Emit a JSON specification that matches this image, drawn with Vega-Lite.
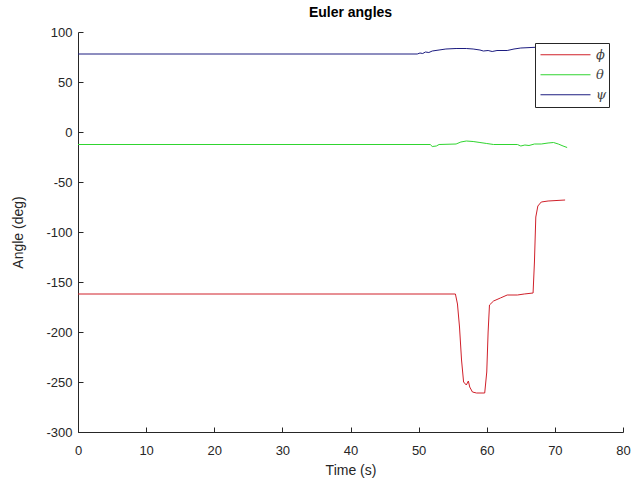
{
  "$schema": "https://vega.github.io/schema/vega-lite/v6.json",
  "autosize": {"type": "none"},
  "padding": {"left": 78, "top": 32, "right": 12, "bottom": 59},
  "width": 545,
  "height": 400,
  "background": "white",
  "config": {
    "view": {"stroke": null},
    "font": "Liberation Sans"
  },
  "title": {"text": "Euler angles", "fontSize": 14, "fontWeight": "bold", "font": "Liberation Sans", "color": "#000000", "offset": 6},
  "data": {"values": [
    {"t": 0, "angle": -162, "series": "ϕ"},
    {"t": 55.4, "angle": -162, "series": "ϕ"},
    {"t": 55.7, "angle": -172, "series": "ϕ"},
    {"t": 56.0, "angle": -195, "series": "ϕ"},
    {"t": 56.3, "angle": -228, "series": "ϕ"},
    {"t": 56.6, "angle": -250, "series": "ϕ"},
    {"t": 57.0, "angle": -253, "series": "ϕ"},
    {"t": 57.3, "angle": -249, "series": "ϕ"},
    {"t": 57.5, "angle": -255, "series": "ϕ"},
    {"t": 57.9, "angle": -260, "series": "ϕ"},
    {"t": 58.5, "angle": -261, "series": "ϕ"},
    {"t": 59.7, "angle": -261, "series": "ϕ"},
    {"t": 60.0, "angle": -240, "series": "ϕ"},
    {"t": 60.2, "angle": -200, "series": "ϕ"},
    {"t": 60.4, "angle": -173, "series": "ϕ"},
    {"t": 61.0, "angle": -169, "series": "ϕ"},
    {"t": 62.0, "angle": -166, "series": "ϕ"},
    {"t": 63.0, "angle": -163, "series": "ϕ"},
    {"t": 64.5, "angle": -163, "series": "ϕ"},
    {"t": 65.5, "angle": -162, "series": "ϕ"},
    {"t": 66.8, "angle": -161, "series": "ϕ"},
    {"t": 67.0, "angle": -130, "series": "ϕ"},
    {"t": 67.2, "angle": -85, "series": "ϕ"},
    {"t": 67.5, "angle": -74, "series": "ϕ"},
    {"t": 68.0, "angle": -70, "series": "ϕ"},
    {"t": 69.0, "angle": -69, "series": "ϕ"},
    {"t": 71.5, "angle": -68, "series": "ϕ"},
    {"t": 0, "angle": -12.5, "series": "θ"},
    {"t": 51.7, "angle": -12.5, "series": "θ"},
    {"t": 52.0, "angle": -14.5, "series": "θ"},
    {"t": 52.6, "angle": -14, "series": "θ"},
    {"t": 53.0, "angle": -12.5, "series": "θ"},
    {"t": 55.5, "angle": -12, "series": "θ"},
    {"t": 56.2, "angle": -10, "series": "θ"},
    {"t": 57.0, "angle": -9, "series": "θ"},
    {"t": 58.0, "angle": -9.5, "series": "θ"},
    {"t": 59.0, "angle": -10.5, "series": "θ"},
    {"t": 60.0, "angle": -11.5, "series": "θ"},
    {"t": 61.0, "angle": -12.5, "series": "θ"},
    {"t": 64.5, "angle": -12.5, "series": "θ"},
    {"t": 65.0, "angle": -14, "series": "θ"},
    {"t": 65.6, "angle": -13, "series": "θ"},
    {"t": 66.2, "angle": -13.5, "series": "θ"},
    {"t": 67.0, "angle": -12, "series": "θ"},
    {"t": 68.0, "angle": -12, "series": "θ"},
    {"t": 69.0, "angle": -11, "series": "θ"},
    {"t": 69.8, "angle": -10.5, "series": "θ"},
    {"t": 70.5, "angle": -12, "series": "θ"},
    {"t": 71.2, "angle": -14, "series": "θ"},
    {"t": 71.8, "angle": -15.5, "series": "θ"},
    {"t": 0, "angle": 78, "series": "ψ"},
    {"t": 49.8, "angle": 78, "series": "ψ"},
    {"t": 50.2, "angle": 79, "series": "ψ"},
    {"t": 50.6, "angle": 78.5, "series": "ψ"},
    {"t": 51.0, "angle": 80, "series": "ψ"},
    {"t": 51.5, "angle": 79.5, "series": "ψ"},
    {"t": 52.0, "angle": 81, "series": "ψ"},
    {"t": 53.0, "angle": 82, "series": "ψ"},
    {"t": 54.0, "angle": 83, "series": "ψ"},
    {"t": 55.5, "angle": 83.5, "series": "ψ"},
    {"t": 57.0, "angle": 83.5, "series": "ψ"},
    {"t": 58.0, "angle": 83, "series": "ψ"},
    {"t": 59.0, "angle": 82, "series": "ψ"},
    {"t": 59.5, "angle": 81, "series": "ψ"},
    {"t": 60.2, "angle": 81.5, "series": "ψ"},
    {"t": 60.8, "angle": 80.5, "series": "ψ"},
    {"t": 61.5, "angle": 81.5, "series": "ψ"},
    {"t": 63.0, "angle": 81.5, "series": "ψ"},
    {"t": 64.0, "angle": 83, "series": "ψ"},
    {"t": 65.0, "angle": 84, "series": "ψ"},
    {"t": 66.5, "angle": 84.5, "series": "ψ"},
    {"t": 68.0, "angle": 85, "series": "ψ"},
    {"t": 71.5, "angle": 85, "series": "ψ"}
  ]},
  "layer": [
    {
      "mark": {"type": "line", "strokeWidth": 1, "interpolate": "linear"},
      "encoding": {
        "x": {
          "field": "t", "type": "quantitative",
          "scale": {"domain": [0, 80], "nice": false},
          "axis": {
            "orient": "bottom",
            "title": "Time (s)", "titleFontSize": 14, "titleFontWeight": "normal", "titleColor": "#262626", "titlePadding": 6,
            "values": [0, 10, 20, 30, 40, 50, 60, 70, 80],
            "grid": false, "ticks": false, "domainColor": "#262626",
            "labelFontSize": 13, "labelColor": "#262626", "labelPadding": 12, "labelFlush": false
          }
        },
        "y": {
          "field": "angle", "type": "quantitative",
          "scale": {"domain": [-300, 100], "nice": false},
          "axis": {
            "orient": "left",
            "title": "Angle (deg)", "titleFontSize": 14, "titleFontWeight": "normal", "titleColor": "#262626", "titlePadding": 20,
            "values": [-300, -250, -200, -150, -100, -50, 0, 50, 100],
            "labelExpr": "datum.value + ''",
            "grid": false, "ticks": false, "domainColor": "#262626",
            "labelFontSize": 13, "labelColor": "#262626", "labelPadding": 6, "labelFlush": false
          }
        },
        "color": {
          "field": "series", "type": "nominal",
          "scale": {"domain": ["ϕ", "θ", "ψ"], "range": ["#d0202a", "#30d530", "#1c1c80"]},
          "legend": {
            "title": null, "orient": "none", "legendX": 457, "legendY": 11,
            "symbolType": "stroke", "symbolSize": 2500, "symbolStrokeWidth": 1,
            "clipHeight": 19.5, "rowPadding": 0, "padding": 2, "symbolOffset": 3,
            "labelFont": "DejaVu Serif", "labelFontStyle": "italic", "labelFontSize": 13, "labelColor": "#444444",
            "strokeColor": "#262626", "fillColor": "white", "labelOffset": 5
          }
        }
      }
    },
    {
      "mark": {"type": "point", "opacity": 0},
      "encoding": {
        "x": {
          "field": "t", "type": "quantitative",
          "scale": {"domain": [0, 80], "nice": false},
          "axis": {
            "orient": "top", "offset": -400, "title": null, "labels": false, "domain": false, "grid": false,
            "values": [0, 10, 20, 30, 40, 50, 60, 70, 80],
            "ticks": true, "tickSize": 5, "tickWidth": 1, "tickColor": "#262626"
          }
        },
        "y": {
          "field": "angle", "type": "quantitative",
          "scale": {"domain": [-300, 100], "nice": false},
          "axis": {
            "orient": "right", "offset": -545, "title": null, "labels": false, "domain": false, "grid": false,
            "values": [-300, -250, -200, -150, -100, -50, 0, 50, 100],
            "ticks": true, "tickSize": 5, "tickWidth": 1, "tickColor": "#262626"
          }
        }
      }
    }
  ],
  "resolve": {
    "scale": {"x": "independent", "y": "independent"},
    "axis": {"x": "independent", "y": "independent"}
  }
}
